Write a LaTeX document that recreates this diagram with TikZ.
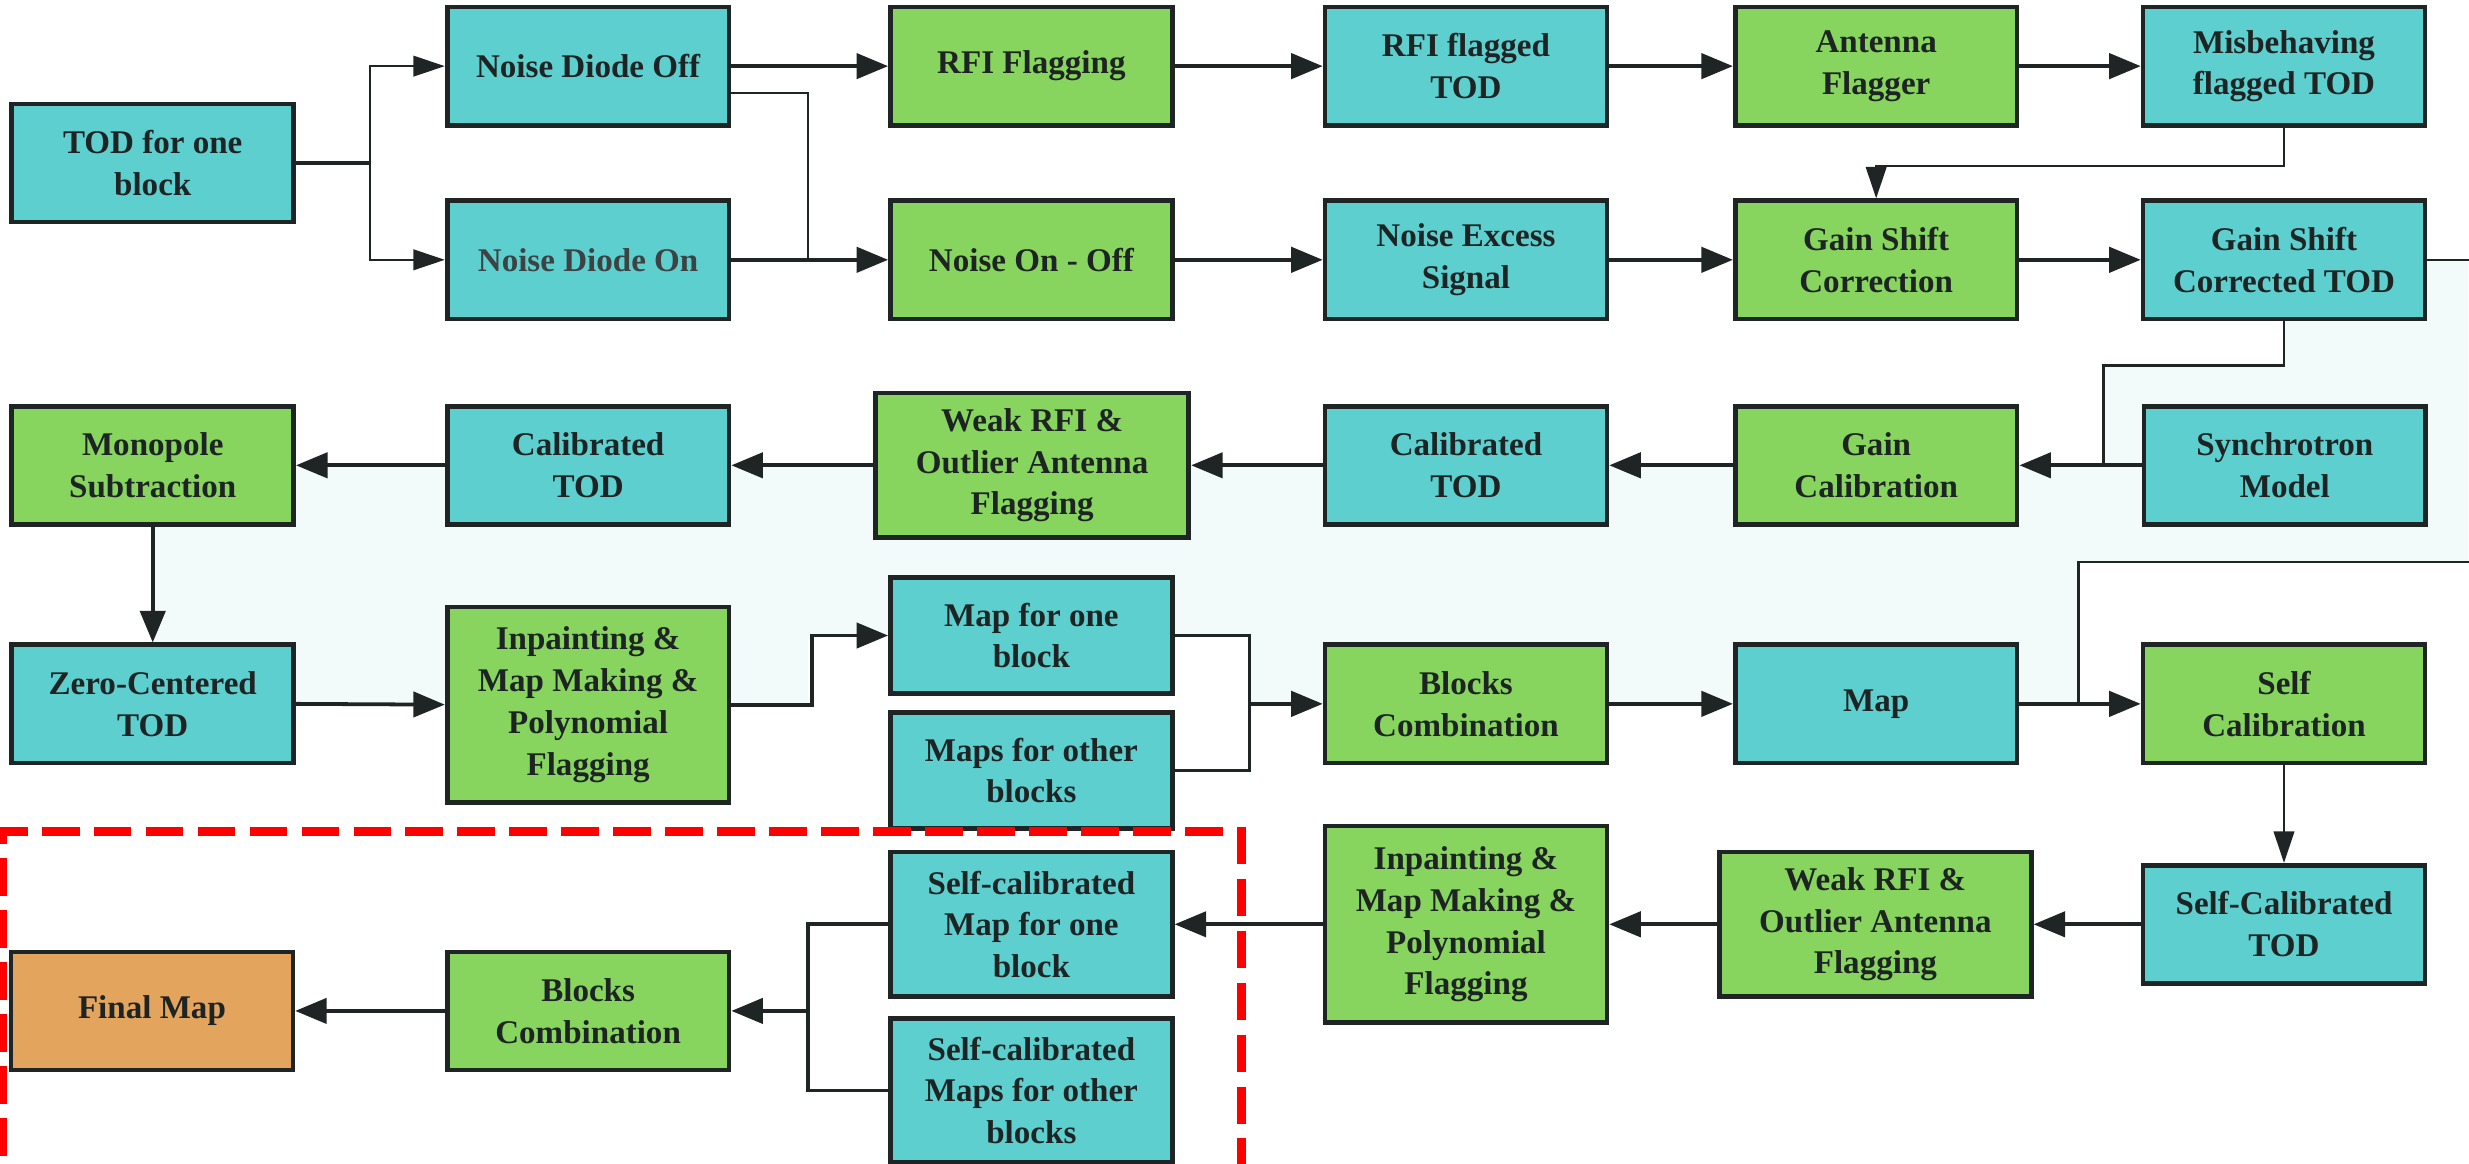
\documentclass[tikz,border=0pt]{standalone}
\usepackage{fontspec}
\setmainfont{Liberation Serif}
\newfontfamily\tnr{Liberation Serif}
\usetikzlibrary{arrows.meta}
\definecolor{cy}{HTML}{5ECFCF}
\definecolor{gr}{HTML}{87D55E}
\definecolor{orng}{HTML}{E3A45E}
\definecolor{bord}{HTML}{1F2524}
\definecolor{txt}{HTML}{1E2423}
\definecolor{txtgray}{HTML}{3D4343}
\definecolor{pale}{HTML}{F2FBFA}
\definecolor{redd}{HTML}{FF0000}
\begin{document}
\begin{tikzpicture}[x=1pt,y=-1pt,
  box/.style={draw=bord, line width=3pt, inner sep=0pt, align=center, text=txt,
    font=\tnr\bfseries\fontsize{21}{26.5}\selectfont, minimum width=179pt, minimum height=75pt},
  cbox/.style={box, fill=cy},
  gbox/.style={box, fill=gr},
  obox/.style={box, fill=orng},
  wire/.style={draw=bord, line width=2.4pt},
  thinwire/.style={draw=bord, line width=1.6pt},
  arr/.style={wire, -{Triangle[length=20pt,width=16pt]}},
  thinarr/.style={thinwire, -{Triangle[length=20pt,width=13pt]}},
  redbox/.style={draw=redd, line width=6pt, dash pattern=on 24pt off 9pt}
]
\useasboundingbox (0,0) rectangle (1568,739);
% pale background region
\fill[pale] (1451,166) -- (1451,231) -- (1336,231) -- (1336,296) -- (97,296) -- (97,447)
  -- (513,447) -- (513,404) -- (793.5,404) -- (793.5,447) -- (1320,447) -- (1320,357)
  -- (1567.5,357) -- (1567.5,166) -- cycle;

% row 1
\node[cbox] (tod) at (97,103.5) {TOD for one\\block};
\node[cbox] (ndoff) at (373.5,42) {Noise Diode Off};
\node[cbox, text=txtgray] (ndon) at (373.5,165) {Noise Diode On};
\node[gbox] (rfif) at (655,42) {RFI Flagging};
\node[cbox] (rfitod) at (931,42) {RFI flagged\\TOD};
\node[gbox] (antf) at (1191.5,42) {Antenna\\Flagger};
\node[cbox] (misb) at (1450.5,42) {Misbehaving\\flagged TOD};
% row 2
\node[gbox] (nonoff) at (655,165) {Noise On - Off};
\node[cbox] (nexs) at (931,165) {Noise Excess\\Signal};
\node[gbox] (gsc) at (1191.5,165) {Gain Shift\\Correction};
\node[cbox] (gsct) at (1450.5,165) {Gain Shift\\Corrected TOD};
% row 3
\node[gbox] (mono) at (97,295.5) {Monopole\\Subtraction};
\node[cbox] (cal1) at (373.5,295.5) {Calibrated\\TOD};
\node[gbox, minimum width=199pt, minimum height=92pt] (weak1) at (655.5,295.5) {Weak RFI \&\\Outlier Antenna\\Flagging};
\node[cbox] (cal2) at (931,295.5) {Calibrated\\TOD};
\node[gbox] (gcal) at (1191.5,295.5) {Gain\\Calibration};
\node[cbox] (sync) at (1451,295.5) {Synchrotron\\Model};
% row 4
\node[cbox] (zero) at (97,447) {Zero-Centered\\TOD};
\node[gbox, minimum height=124pt] (inp1) at (373.5,447.5) {Inpainting \&\\Map Making \&\\Polynomial\\Flagging};
\node[cbox, minimum height=74pt] (map1) at (655,403.6) {Map for one\\block};
\node[cbox, minimum height=73.5pt] (mapo) at (655,489.3) {Maps for other\\blocks};
\node[gbox] (bc1) at (931,447) {Blocks\\Combination};
\node[cbox] (map) at (1191.5,447) {Map};
\node[gbox] (selfcal) at (1450.5,447) {Self\\Calibration};
% row 5
\node[obox] (final) at (96.5,642) {Final Map};
\node[gbox] (bc2) at (373.5,642) {Blocks\\Combination};
\node[cbox, minimum height=92pt] (scm1) at (655,587) {Self-calibrated\\Map for one\\block};
\node[cbox, minimum height=91pt] (scmo) at (655,692.5) {Self-calibrated\\Maps for other\\blocks};
\node[gbox, minimum height=125pt] (inp2) at (931,587) {Inpainting \&\\Map Making \&\\Polynomial\\Flagging};
\node[gbox, minimum width=198pt, minimum height=92pt] (weak2) at (1191,587) {Weak RFI \&\\Outlier Antenna\\Flagging};
\node[cbox] (sctod) at (1450.5,587) {Self-Calibrated\\TOD};

% junctions
\coordinate (j1) at (235,103.5);
\coordinate (j2) at (513,165);
\coordinate (j3) at (1336,295.5);
\coordinate (k4) at (1320,357);
\coordinate (j4) at (1320,447);
\coordinate (j5) at (793.5,447);
\coordinate (j6) at (513,642);

% connectors
\draw[wire] (tod.east) -- (j1);
\draw[thinarr] (j1) |- (ndoff.west);
\draw[thinarr] (j1) |- (ndon.west);
\draw[arr] (ndoff.east) -- (rfif.west);
\draw[thinwire] ([yshift=-17pt]ndoff.east) -| (j2);
\draw[arr] (ndon.east) -- (nonoff.west);
\draw[arr] (rfif.east) -- (rfitod.west);
\draw[arr] (rfitod.east) -- (antf.west);
\draw[arr] (antf.east) -- (misb.west);
\draw[thinarr] (misb.south) -- ++(0,24.5) -| (gsc.north);
\draw[arr] (nonoff.east) -- (nexs.west);
\draw[arr] (nexs.east) -- (gsc.west);
\draw[arr] (gsc.east) -- (gsct.west);
\draw[thinwire] (gsct.south) -- ++(0,28) -| (j3);
\draw[wire] (sync.west) -- (j3);
\draw[arr] (j3) -- (gcal.east);
\draw[thinwire] (gsct.east) -- ++(28.5,0) |- (k4) -- (j4);
\draw[arr] (gcal.west) -- (cal2.east);
\draw[arr] (cal2.west) -- (weak1.east);
\draw[arr] (weak1.west) -- (cal1.east);
\draw[arr] (cal1.west) -- (mono.east);
\draw[arr] (mono.south) -- (zero.north);
\draw[arr] (zero.east) -- (inp1.west);
\draw[arr] (inp1.east) -- ++(51,0) |- (map1.west);
\draw[wire] (map1.east) -| (j5);
\draw[wire] (mapo.east) -| (j5);
\draw[arr] (j5) -- (bc1.west);
\draw[arr] (bc1.east) -- (map.west);
\draw[arr] (map.east) -- (selfcal.west);
\draw[thinarr] (selfcal.south) -- (sctod.north);
\draw[arr] (sctod.west) -- (weak2.east);
\draw[arr] (weak2.west) -- (inp2.east);
\draw[arr] (inp2.west) -- (scm1.east);
\draw[wire] (scm1.west) -| (j6);
\draw[wire] (scmo.west) -| (j6);
\draw[arr] (j6) -- (bc2.east);
\draw[arr] (bc2.west) -- (final.east);

% red dashed frame
\begin{scope}
\clip (0,0) rectangle (1568,739);
\draw[redbox] (1.5,800) -- (1.5,528) -- (788.5,528) -- (788.5,800);
\end{scope}
\end{tikzpicture}
\end{document}
